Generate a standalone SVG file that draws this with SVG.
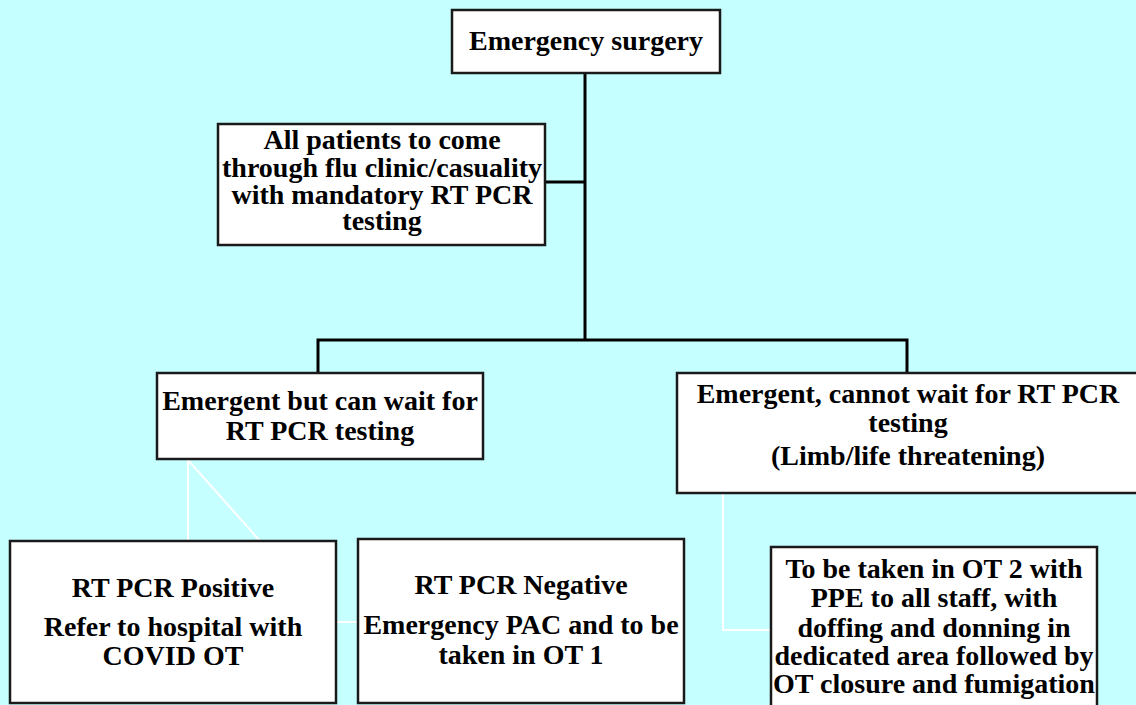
<svg xmlns="http://www.w3.org/2000/svg" width="1136" height="705" viewBox="0 0 1136 705">
<style>
.box{fill:#ffffff;stroke:#1a1a1a;stroke-width:2.5}
.t{font-family:'Liberation Serif','Times New Roman',serif;font-weight:700;font-size:28px;fill:#000;text-anchor:middle}
.k{fill:none;stroke:#000;stroke-width:3}
.w{fill:none;stroke:#ffffff;stroke-width:2}
</style>
<rect width="1136" height="705" fill="#c6ffff"/>
<g id="connectors">
<path class="k" d="M585 73 V340 M545 182 H585 M318 373 V340 H907 V373"/>
<path class="w" d="M188 460 V541 M188 460 L260 541 M336 622 H358 M723 493 V630 H771"/>
</g>
<g id="n1"><rect class="box" x="452" y="10" width="268" height="63"/>
<text class="t" x="586" y="50">Emergency surgery</text></g>
<g id="n2"><rect class="box" x="218" y="124" width="327" height="121"/>
<text class="t" x="382" y="149">All patients to come</text>
<text class="t" x="382" y="177">through flu clinic/casuality</text>
<text class="t" x="382" y="204">with mandatory RT PCR</text>
<text class="t" x="382" y="230">testing</text></g>
<g id="n3"><rect class="box" x="157" y="373" width="326" height="86"/>
<text class="t" x="320" y="410">Emergent but can wait for</text>
<text class="t" x="320" y="440">RT PCR testing</text></g>
<g id="n4"><rect class="box" x="677" y="373" width="463" height="120"/>
<text class="t" x="908" y="403">Emergent, cannot wait for RT PCR</text>
<text class="t" x="908" y="432">testing</text>
<text class="t" x="908" y="465">(Limb/life threatening)</text></g>
<g id="n5"><rect class="box" x="10" y="541" width="326" height="162"/>
<text class="t" x="173" y="597">RT PCR Positive</text>
<text class="t" x="173" y="636">Refer to hospital with</text>
<text class="t" x="173" y="665">COVID OT</text></g>
<g id="n6"><rect class="box" x="358" y="539" width="326" height="164"/>
<text class="t" x="521" y="594">RT PCR Negative</text>
<text class="t" x="521" y="634">Emergency PAC and to be</text>
<text class="t" x="521" y="664">taken in OT 1</text></g>
<g id="n7"><rect class="box" x="771" y="547" width="326" height="170"/>
<text class="t" x="934" y="578">To be taken in OT 2 with</text>
<text class="t" x="934" y="607">PPE to all staff, with</text>
<text class="t" x="934" y="637">doffing and donning in</text>
<text class="t" x="934" y="665">dedicated area followed by</text>
<text class="t" x="934" y="693">OT closure and fumigation</text></g>
</svg>
